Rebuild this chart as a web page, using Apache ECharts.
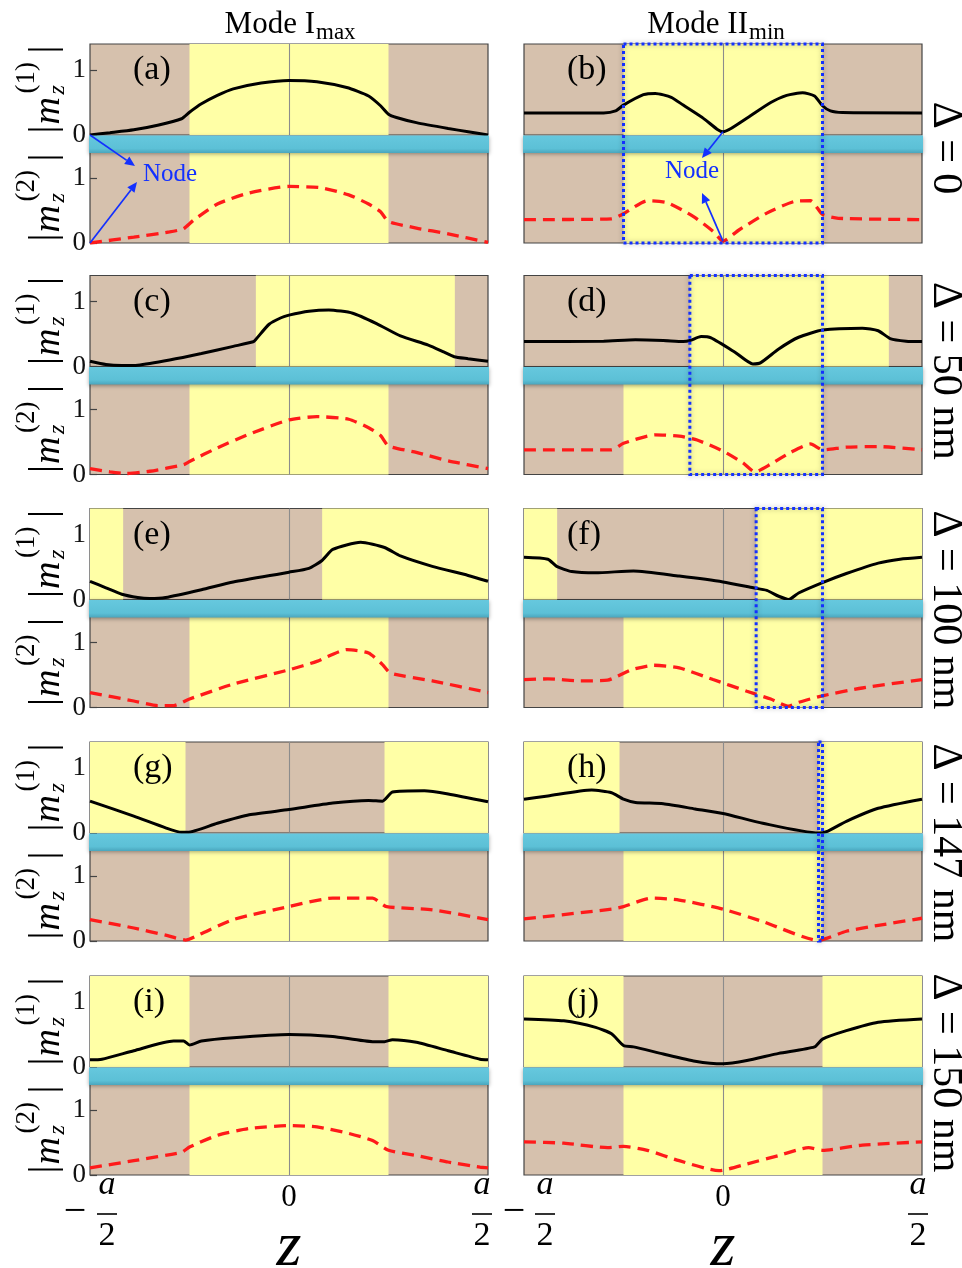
<!DOCTYPE html>
<html>
<head>
<meta charset="utf-8">
<script src="https://cdn.jsdelivr.net/npm/echarts@6/dist/echarts.min.js"></script>
<style>
  html, body { margin: 0; padding: 0; background: #fff; }
  #main { width: 962px; height: 1268px; }
</style>
</head>
<body>
<div id="main"></div>
<script>
// ---- data: |m_z| profiles over one period z in [-a/2, a/2] ----
const panelLetters = ['a', 'b', 'c', 'd', 'e', 'f', 'g', 'h', 'i', 'j'];
const deltaLabels = ['\u0394 = 0', '\u0394 = 50 nm', '\u0394 = 100 nm', '\u0394 = 147 nm', '\u0394 = 150 nm'];
const columnTitles = [['Mode I', 'max'], ['Mode II', 'min']];
const yTickValues = [0, 1];

// yellow layer segments (upper film shifted by delta), lower film fixed
const yellowTopRegions = [
  [[-0.25, 0.25]],
  [[-0.0833, 0.4167]],
  [[-0.5, -0.4167], [0.0833, 0.5]],
  [[-0.5, -0.26], [0.24, 0.5]],
  [[-0.5, -0.25], [0.25, 0.5]]
];
const yellowBottomRegions = [[-0.25, 0.25]];
// overlap windows marked with dotted boxes (Mode II column)
const boxRanges = [[-0.25, 0.25], [-0.0833, 0.25], [0.0833, 0.25], [0.24, 0.25], null];

const m1_a = [[-0.5,0],[-0.45,0.035],[-0.39,0.08],[-0.33,0.15],[-0.27,0.25],[-0.25,0.35],[-0.22,0.48],[-0.18,0.61],[-0.14,0.71],[-0.07,0.8],[0,0.84],[0.07,0.82],[0.145,0.73],[0.2,0.6],[0.23,0.45],[0.25,0.32],[0.27,0.27],[0.32,0.19],[0.4,0.1],[0.45,0.05],[0.5,0]];
const m2_a = [[-0.5,0],[-0.39,0.09],[-0.3,0.17],[-0.265,0.22],[-0.24,0.35],[-0.18,0.6],[-0.1,0.77],[0,0.87],[0.08,0.85],[0.15,0.74],[0.2,0.6],[0.23,0.48],[0.25,0.33],[0.32,0.23],[0.4,0.14],[0.5,0.01]];
const m1_b = [[-0.5,0.34],[-0.3,0.34],[-0.27,0.37],[-0.25,0.46],[-0.2,0.62],[-0.17,0.64],[-0.13,0.58],[-0.1,0.46],[-0.05,0.26],[-0.015,0.09],[0,0.05],[0.02,0.1],[0.07,0.3],[0.12,0.5],[0.16,0.61],[0.2,0.65],[0.23,0.6],[0.25,0.45],[0.27,0.37],[0.3,0.345],[0.5,0.34]];
const m2_b = [[-0.5,0.36],[-0.28,0.37],[-0.25,0.45],[-0.19,0.65],[-0.14,0.62],[-0.075,0.41],[-0.025,0.18],[0,0.03],[0.04,0.2],[0.11,0.46],[0.18,0.64],[0.22,0.65],[0.25,0.44],[0.29,0.38],[0.5,0.36]];
const m1_c = [[-0.5,0.08],[-0.46,0.03],[-0.42,0.015],[-0.38,0.02],[-0.3,0.1],[-0.22,0.2],[-0.14,0.31],[-0.09,0.38],[-0.083,0.42],[-0.05,0.65],[-0.02,0.75],[0,0.79],[0.05,0.85],[0.1,0.87],[0.16,0.82],[0.22,0.66],[0.28,0.47],[0.35,0.33],[0.39,0.22],[0.415,0.15],[0.45,0.12],[0.5,0.08]];
const m2_c = [[-0.5,0.09],[-0.45,0.04],[-0.41,0.015],[-0.35,0.05],[-0.265,0.15],[-0.25,0.2],[-0.18,0.41],[-0.1,0.62],[0,0.84],[0.07,0.89],[0.15,0.85],[0.2,0.72],[0.23,0.6],[0.25,0.44],[0.32,0.34],[0.4,0.21],[0.5,0.09]];
const m1_d = [[-0.5,0.385],[-0.3,0.39],[-0.22,0.41],[-0.15,0.4],[-0.1,0.385],[-0.083,0.4],[-0.055,0.46],[-0.03,0.44],[0.03,0.22],[0.075,0.04],[0.095,0.06],[0.14,0.27],[0.19,0.45],[0.25,0.56],[0.35,0.59],[0.39,0.55],[0.42,0.43],[0.46,0.39],[0.5,0.385]];
const m2_d = [[-0.5,0.38],[-0.28,0.38],[-0.25,0.48],[-0.17,0.61],[-0.11,0.59],[-0.065,0.53],[0,0.36],[0.05,0.18],[0.08,0.04],[0.12,0.16],[0.17,0.34],[0.22,0.47],[0.25,0.38],[0.31,0.42],[0.39,0.43],[0.5,0.38]];
const m1_e = [[-0.5,0.28],[-0.46,0.18],[-0.42,0.08],[-0.38,0.03],[-0.35,0.015],[-0.31,0.03],[-0.22,0.15],[-0.14,0.27],[0,0.42],[0.05,0.48],[0.083,0.6],[0.11,0.77],[0.18,0.88],[0.24,0.8],[0.28,0.67],[0.36,0.51],[0.45,0.37],[0.5,0.28]];
const m2_e = [[-0.5,0.23],[-0.39,0.1],[-0.33,0.03],[-0.29,0.03],[-0.25,0.13],[-0.14,0.36],[0,0.58],[0.07,0.71],[0.145,0.89],[0.2,0.84],[0.235,0.66],[0.255,0.53],[0.36,0.41],[0.5,0.23]];
const m1_f = [[-0.5,0.65],[-0.44,0.62],[-0.418,0.51],[-0.38,0.43],[-0.32,0.41],[-0.225,0.44],[-0.11,0.36],[0,0.27],[0.076,0.18],[0.11,0.14],[0.14,0.05],[0.165,0.0],[0.19,0.1],[0.25,0.26],[0.31,0.4],[0.39,0.56],[0.445,0.62],[0.5,0.65]];
const m2_f = [[-0.5,0.43],[-0.44,0.44],[-0.36,0.41],[-0.29,0.42],[-0.265,0.48],[-0.23,0.58],[-0.175,0.65],[-0.11,0.61],[-0.025,0.43],[0.06,0.25],[0.12,0.13],[0.165,0.02],[0.19,0.08],[0.25,0.18],[0.35,0.3],[0.5,0.43]];
const m1_g = [[-0.5,0.49],[-0.39,0.26],[-0.31,0.08],[-0.27,0.01],[-0.255,0.01],[-0.18,0.15],[-0.1,0.28],[0,0.36],[0.11,0.46],[0.2,0.5],[0.235,0.49],[0.26,0.63],[0.34,0.65],[0.4,0.6],[0.5,0.48]];
const m2_g = [[-0.5,0.33],[-0.39,0.2],[-0.31,0.09],[-0.26,0.015],[-0.225,0.1],[-0.14,0.33],[0,0.53],[0.11,0.66],[0.21,0.66],[0.245,0.53],[0.36,0.48],[0.5,0.33]];
const m1_h = [[-0.5,0.52],[-0.44,0.57],[-0.33,0.66],[-0.28,0.62],[-0.25,0.52],[-0.22,0.47],[-0.15,0.45],[-0.07,0.37],[0,0.3],[0.1,0.15],[0.24,0.0],[0.26,0.02],[0.31,0.18],[0.39,0.38],[0.5,0.52]];
const m2_h = [[-0.5,0.34],[-0.28,0.49],[-0.25,0.53],[-0.18,0.66],[-0.11,0.63],[0,0.49],[0.1,0.3],[0.24,0.01],[0.31,0.15],[0.39,0.24],[0.5,0.35]];
const m1_i = [[-0.5,0.11],[-0.47,0.12],[-0.39,0.25],[-0.29,0.4],[-0.265,0.4],[-0.25,0.34],[-0.22,0.4],[-0.14,0.45],[0,0.5],[0.11,0.47],[0.21,0.39],[0.24,0.39],[0.26,0.42],[0.32,0.38],[0.4,0.25],[0.48,0.12],[0.5,0.11]];
const m2_i = [[-0.5,0.11],[-0.39,0.22],[-0.27,0.35],[-0.25,0.43],[-0.18,0.61],[-0.1,0.715],[0,0.76],[0.07,0.74],[0.15,0.64],[0.21,0.53],[0.25,0.38],[0.32,0.3],[0.4,0.2],[0.48,0.12],[0.5,0.11]];
const m1_j = [[-0.5,0.74],[-0.4,0.71],[-0.32,0.61],[-0.28,0.51],[-0.25,0.33],[-0.225,0.31],[-0.15,0.2],[-0.07,0.09],[0,0.05],[0.06,0.1],[0.14,0.21],[0.23,0.31],[0.25,0.43],[0.31,0.56],[0.39,0.69],[0.5,0.74]];
const m2_j = [[-0.5,0.51],[-0.4,0.49],[-0.29,0.42],[-0.25,0.44],[-0.19,0.38],[-0.11,0.22],[-0.01,0.067],[0.06,0.17],[0.14,0.3],[0.215,0.42],[0.25,0.38],[0.35,0.46],[0.5,0.51]];

const upperCurves = [m1_a, m1_b, m1_c, m1_d, m1_e, m1_f, m1_g, m1_h, m1_i, m1_j];
const lowerCurves = [m2_a, m2_b, m2_c, m2_d, m2_e, m2_f, m2_g, m2_h, m2_i, m2_j];

// node markers pointed at in row one: [panel, z, value in upper, value in lower]
const nodePoints = [[0, -0.5, 0, 0], [1, 0, 0.05, 0.03]];

// ---- layout ----
const SERIF = '"Liberation Serif", "DejaVu Serif", serif';
const BROWN = '#d6c1ad', YELLOW = '#ffffa6';
const COL_LEFT = [90, 524];
const PLOT_W = 398;
const ROW_TOP = [44, 275.5, 508.5, 742, 976];
const SUB_H = 91, LOWER_OFF = 108;

const chart = echarts.init(document.getElementById('main'), null, { renderer: 'canvas', width: 962, height: 1268 });

const grids = [], xAxes = [], yAxes = [], series = [];
for (let p = 0; p < 10; p++) {
  const r = p >> 1, c = p & 1;
  const L = COL_LEFT[c], T = ROW_TOP[r];
  [0, 1].forEach(k => {
    const g = grids.length;
    grids.push({
      left: L, top: k ? T + LOWER_OFF : T, width: PLOT_W, height: SUB_H,
      show: true, backgroundColor: BROWN, borderColor: '#444', borderWidth: 1.2
    });
    xAxes.push({
      gridIndex: g, type: 'value', min: -0.5, max: 0.5,
      axisLine: { show: false, onZero: false }, axisTick: { show: false }, axisLabel: { show: false }, splitLine: { show: false }
    });
    yAxes.push({
      gridIndex: g, type: 'value', min: 0, max: 1.4, interval: 1, position: 'left',
      axisLine: { show: false, onZero: false }, splitLine: { show: false },
      axisTick: { show: c === 0, inside: true, length: 7, customValues: yTickValues, lineStyle: { color: '#444', width: 1.2 } },
      axisLabel: {
        show: c === 0, customValues: yTickValues, margin: 4,
        fontFamily: SERIF, fontSize: 27, color: '#111',
        formatter: v => (v === 0 || v === 1) ? String(v) : ''
      }
    });
    const regions = k ? yellowBottomRegions : yellowTopRegions[r];
    series.push({
      type: 'line', xAxisIndex: g, yAxisIndex: g,
      data: k ? lowerCurves[p] : upperCurves[p],
      symbol: 'none', showSymbol: false, smooth: 0.2, z: 5,
      lineStyle: k ? { color: '#ff1a1a', width: 3.3, type: [12, 7] } : { color: '#000', width: 3 },
      markArea: { silent: true, itemStyle: { color: YELLOW }, data: regions.map(([a, b]) => [{ xAxis: a }, { xAxis: b }]) },
      markLine: {
        silent: true, symbol: ['none', 'none'], label: { show: false },
        lineStyle: { color: '#8c8c8c', width: 1.1, type: 'solid' }, data: [{ xAxis: 0 }]
      }
    });
  });
}

chart.setOption({
  backgroundColor: '#fff',
  animation: false,
  grid: grids, xAxis: xAxes, yAxis: yAxes, series: series
});

// ---- overlay graphics ----
function txt(str, x, baseline, size, opt) {
  opt = opt || {};
  const font = (opt.italic ? 'italic ' : '') + size + 'px ' + SERIF;
  return {
    type: 'text', x: x, y: baseline - 0.338 * size, z: opt.z || 110,
    style: {
      text: str, font: font, fill: opt.fill || '#000',
      align: opt.align || 'center', textAlign: opt.align || 'center',
      verticalAlign: 'middle', textVerticalAlign: 'middle'
    }
  };
}

function arrow(x1, y1, x2, y2, color) {
  const dx = x2 - x1, dy = y2 - y1, len = Math.hypot(dx, dy);
  const ux = dx / len, uy = dy / len, hl = 10, hw = 4.5;
  const bx = x2 - ux * hl, by = y2 - uy * hl;
  return [
    { type: 'line', z: 130, shape: { x1: x1, y1: y1, x2: bx, y2: by }, style: { stroke: color, lineWidth: 1.7 } },
    { type: 'polygon', z: 130, shape: { points: [[x2, y2], [bx - uy * hw, by + ux * hw], [bx + uy * hw, by - ux * hw]] }, style: { fill: color } }
  ];
}

// rotated |m_z^(n)| label, reading bottom to top, baseline on the right
function yLabel(cy, n) {
  return {
    type: 'group', x: 62, y: cy, rotation: Math.PI / 2, z: 110,
    children: [
      txt('|', -40, -4, 38),
      txt('m', -35, 0, 38, { italic: true, align: 'left' }),
      txt('z', -5, 4, 24, { italic: true, align: 'left' }),
      txt('(' + n + ')', -4, -26, 27, { align: 'left' }),
      txt('|', 40, -4, 38)
    ]
  };
}

const G = [];
const BLUE = '#1330ff';

// column titles
[[315, 0], [748, 1]].forEach(([x, c]) => {
  G.push(txt(columnTitles[c][0], x, 35, 31, { align: 'right' }));
  G.push(txt(columnTitles[c][1], x + 1, 41, 23, { align: 'left' }));
});

for (let r = 0; r < 5; r++) {
  const T = ROW_TOP[r];
  for (let c = 0; c < 2; c++) {
    const L = COL_LEFT[c];
    const p = r * 2 + c;
    // spacer bar between the two films
    G.push({
      type: 'rect', z: 100,
      shape: { x: L - 1, y: T + SUB_H + 0.5, width: PLOT_W + 2, height: LOWER_OFF - SUB_H + 0.5 },
      style: {
        fill: new echarts.graphic.LinearGradient(0, 0, 0, 1, [
          { offset: 0, color: '#66c8de' }, { offset: 0.75, color: '#5cc0d6' }, { offset: 1, color: '#4aa6bd' }
        ]),
        shadowBlur: 4, shadowColor: 'rgba(0,0,0,0.35)', shadowOffsetY: 1
      }
    });
    // panel letter
    G.push(txt('(' + panelLetters[p] + ')', L + 43, T + 38, 34, { align: 'left' }));
  }
  // y labels on the left column
  G.push(yLabel(T + SUB_H / 2, 1));
  G.push(yLabel(T + LOWER_OFF + SUB_H / 2, 2));
  // delta label on the right, reading top to bottom
  const cy = [148, 371, 610, 843, 1073][r];
  G.push({
    type: 'text', x: 945, y: cy, rotation: -Math.PI / 2, z: 110,
    style: { text: deltaLabels[r], font: '42px ' + SERIF, fill: '#000', align: 'center', textAlign: 'center', verticalAlign: 'middle', textVerticalAlign: 'middle' }
  });
  // dotted window in Mode II column
  const rg = boxRanges[r];
  if (rg) {
    const gTop = (r * 2 + 1) * 2;
    const a = chart.convertToPixel({ gridIndex: gTop }, [rg[0], 1.4]);
    const b = chart.convertToPixel({ gridIndex: gTop + 1 }, [rg[1], 0]);
    G.push({
      type: 'rect', z: 120,
      shape: { x: a[0], y: a[1], width: b[0] - a[0], height: b[1] - a[1] },
      style: { fill: 'none', stroke: BLUE, lineWidth: 3, lineDash: [3, 3], shadowBlur: 5, shadowColor: 'rgba(0,0,0,0.35)' }
    });
  }
}

// node annotations (row one)
const nodeText = [[170, 183], [692, 180]];
const nodeTips = [[[135, 166], [137, 182]], [[702, 158], [702, 193]]];
nodePoints.forEach(([p, z, v1, v2], i) => {
  const s1 = chart.convertToPixel({ gridIndex: p * 2 }, [z, v1]);
  const s2 = chart.convertToPixel({ gridIndex: p * 2 + 1 }, [z, v2]);
  G.push(...arrow(s1[0], s1[1], nodeTips[i][0][0], nodeTips[i][0][1], BLUE));
  G.push(...arrow(s2[0], s2[1], nodeTips[i][1][0], nodeTips[i][1][1], BLUE));
  G.push(txt('Node', nodeText[i][0], nodeText[i][1], 25, { fill: BLUE, z: 130 }));
});

// z-axis labels under the last row
[0, 1].forEach(c => {
  const g = (4 * 2 + c) * 2 + 1;
  const xl = chart.convertToPixel({ gridIndex: g }, [-0.5, 0])[0];
  const x0 = chart.convertToPixel({ gridIndex: g }, [0, 0])[0];
  const xr = chart.convertToPixel({ gridIndex: g }, [0.5, 0])[0];
  const fracs = [xl + (c ? 21 : 17), xr - (c ? 4 : 6)];
  G.push(txt('\u2212', xl - (c ? 10 : 15), 1226, 40));
  fracs.forEach(fx => {
    G.push(txt('a', fx, 1197, 34, { italic: true }));
    G.push({ type: 'line', z: 110, shape: { x1: fx - 10, y1: 1214, x2: fx + 10, y2: 1214 }, style: { stroke: '#000', lineWidth: 1.6 } });
    G.push(txt('2', fx, 1248, 34));
  });
  G.push(txt('0', x0, 1208, 31));
  G.push(txt('z', x0, 1270, 64, { italic: true }));
});

chart.setOption({ graphic: { elements: G } });
</script>
</body>
</html>
